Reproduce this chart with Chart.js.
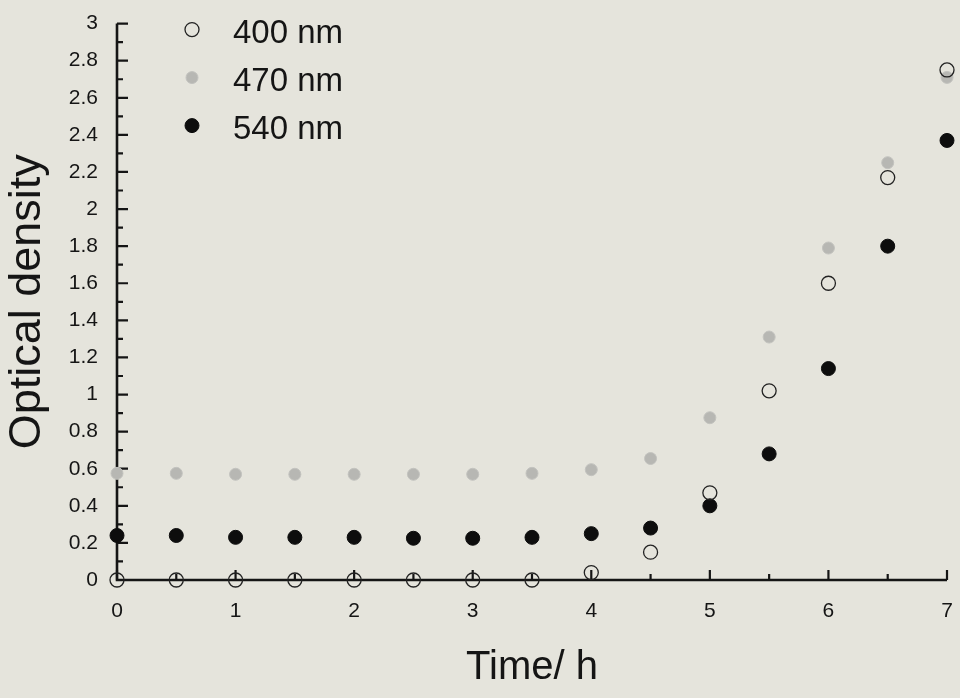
<!DOCTYPE html>
<html>
<head>
<meta charset="utf-8">
<script src="https://cdn.jsdelivr.net/npm/chart.js@4/dist/chart.umd.min.js"></script>
<style>
  html, body { margin: 0; padding: 0; background: #e5e4dc; }
  #wrap { width: 960px; height: 698px; }
</style>
</head>
<body>
<div id="wrap"><canvas id="myChart" width="960" height="698"></canvas></div>
<script>
const times = [0, 0.5, 1, 1.5, 2, 2.5, 3, 3.5, 4, 4.5, 5, 5.5, 6, 6.5, 7];

const od400 = [0, 0, 0, 0, 0, 0, 0, 0, 0.04, 0.15, 0.47, 1.02, 1.6, 2.17, 2.75];
const od470 = [0.575, 0.575, 0.57, 0.57, 0.57, 0.57, 0.57, 0.575, 0.595, 0.655, 0.875, 1.31, 1.79, 2.25, 2.71];
const od540 = [0.24, 0.24, 0.23, 0.23, 0.23, 0.225, 0.225, 0.23, 0.25, 0.28, 0.4, 0.68, 1.14, 1.8, 2.37];

const seriesNames = ['400 nm', '470 nm', '540 nm'];

const xTicks = [0, 1, 2, 3, 4, 5, 6, 7];
const xTickLabels = ['0', '1', '2', '3', '4', '5', '6', '7'];
const yTicks = [0, 0.2, 0.4, 0.6, 0.8, 1, 1.2, 1.4, 1.6, 1.8, 2, 2.2, 2.4, 2.6, 2.8, 3];
const yTickLabels = ['0', '0.2', '0.4', '0.6', '0.8', '1', '1.2', '1.4', '1.6', '1.8', '2', '2.2', '2.4', '2.6', '2.8', '3'];

const ink = '#151515';
const fontFam = '"Liberation Sans", Arial, sans-serif';

function pts(values) {
    return times.map((t, i) => ({ x: t, y: values[i] }));
}

const data = {
    datasets: [{
        label: seriesNames[0],
        data: pts(od400),
        pointRadius: 7,
        pointBackgroundColor: 'rgba(0,0,0,0)',
        pointBorderColor: '#222',
        pointBorderWidth: 1.3,
    }, {
        label: seriesNames[1],
        data: pts(od470),
        pointRadius: 6,
        pointBackgroundColor: '#b7b7b3',
        pointBorderColor: '#c2c2be',
        pointBorderWidth: 1,
    }, {
        label: seriesNames[2],
        data: pts(od540),
        pointRadius: 7,
        pointBackgroundColor: '#0d0d0d',
        pointBorderColor: '#0d0d0d',
        pointBorderWidth: 1,
    }]
};

// axis lines and inward ticks, like the original plot
const axesPlugin = {
    id: 'axes',
    beforeDatasetsDraw(chart) {
        const { ctx, chartArea: a, scales: { x, y } } = chart;
        ctx.save();
        ctx.strokeStyle = ink;
        ctx.lineWidth = 2.6;
        ctx.beginPath();
        ctx.moveTo(a.left, y.getPixelForValue(3));
        ctx.lineTo(a.left, a.bottom);
        ctx.lineTo(a.right, a.bottom);
        ctx.stroke();

        ctx.lineWidth = 2.2;
        ctx.beginPath();
        for (let i = 0; i <= 30; i++) {
            const py = y.getPixelForValue(i / 10);
            const len = i % 2 === 0 ? 11 : 6;
            ctx.moveTo(a.left, py);
            ctx.lineTo(a.left + len, py);
        }
        for (let i = 0; i <= 14; i++) {
            const px = x.getPixelForValue(i / 2);
            const len = i % 2 === 0 ? 10 : 6;
            ctx.moveTo(px, a.bottom);
            ctx.lineTo(px, a.bottom - len);
        }
        ctx.stroke();
        ctx.restore();
    }
};

// vertical legend inside the plot, top left
const legendPlugin = {
    id: 'innerLegend',
    afterDraw(chart) {
        const { ctx, chartArea: a } = chart;
        ctx.save();
        chart.data.datasets.forEach((ds, i) => {
            const my = a.top + 6 + i * 48;
            const mx = a.left + 75;
            ctx.beginPath();
            ctx.arc(mx, my, ds.pointRadius, 0, Math.PI * 2);
            if (ds.pointBackgroundColor !== 'rgba(0,0,0,0)') {
                ctx.fillStyle = ds.pointBackgroundColor;
                ctx.fill();
            }
            ctx.lineWidth = ds.pointBorderWidth;
            ctx.strokeStyle = ds.pointBorderColor;
            ctx.stroke();

            ctx.fillStyle = ink;
            ctx.font = '33px ' + fontFam;
            ctx.textAlign = 'left';
            ctx.textBaseline = 'middle';
            ctx.fillText(ds.label, a.left + 116, my + 4);
        });
        ctx.restore();
    }
};

const config = {
    type: 'scatter',
    data: data,
    options: {
        responsive: false,
        animation: false,
        clip: false,
        layout: {
            padding: { top: 11, right: 0, left: 0, bottom: 0 }
        },
        plugins: {
            legend: { display: false },
            tooltip: { enabled: false },
        },
        scales: {
            x: {
                type: 'linear',
                min: 0,
                max: 7,
                afterBuildTicks: (scale) => { scale.ticks = xTicks.map(v => ({ value: v })); },
                afterFit: (scale) => { scale.height = 118; scale.paddingRight = 13; },
                grid: { display: false },
                border: { display: false },
                ticks: {
                    color: ink,
                    padding: 11,
                    maxRotation: 0,
                    font: { family: fontFam, size: 21 },
                    callback: (v, i) => xTickLabels[i],
                },
                title: {
                    display: true,
                    text: 'Time/ h',
                    color: ink,
                    padding: { bottom: 6 },
                    font: { family: fontFam, size: 40 },
                },
            },
            y: {
                min: 0,
                max: 3,
                afterBuildTicks: (scale) => { scale.ticks = yTicks.map(v => ({ value: v })); },
                afterFit: (scale) => { scale.width = 117; },
                grid: { display: false },
                border: { display: false },
                ticks: {
                    color: ink,
                    padding: 11,
                    font: { family: fontFam, size: 21 },
                    callback: (v, i) => yTickLabels[i],
                },
                title: {
                    display: true,
                    text: 'Optical density',
                    color: ink,
                    padding: { top: 1 },
                    font: { family: fontFam, size: 45 },
                },
            },
        },
    },
    plugins: [axesPlugin, legendPlugin],
};

new Chart(
    document.getElementById('myChart'),
    config
);
</script>
</body>
</html>
